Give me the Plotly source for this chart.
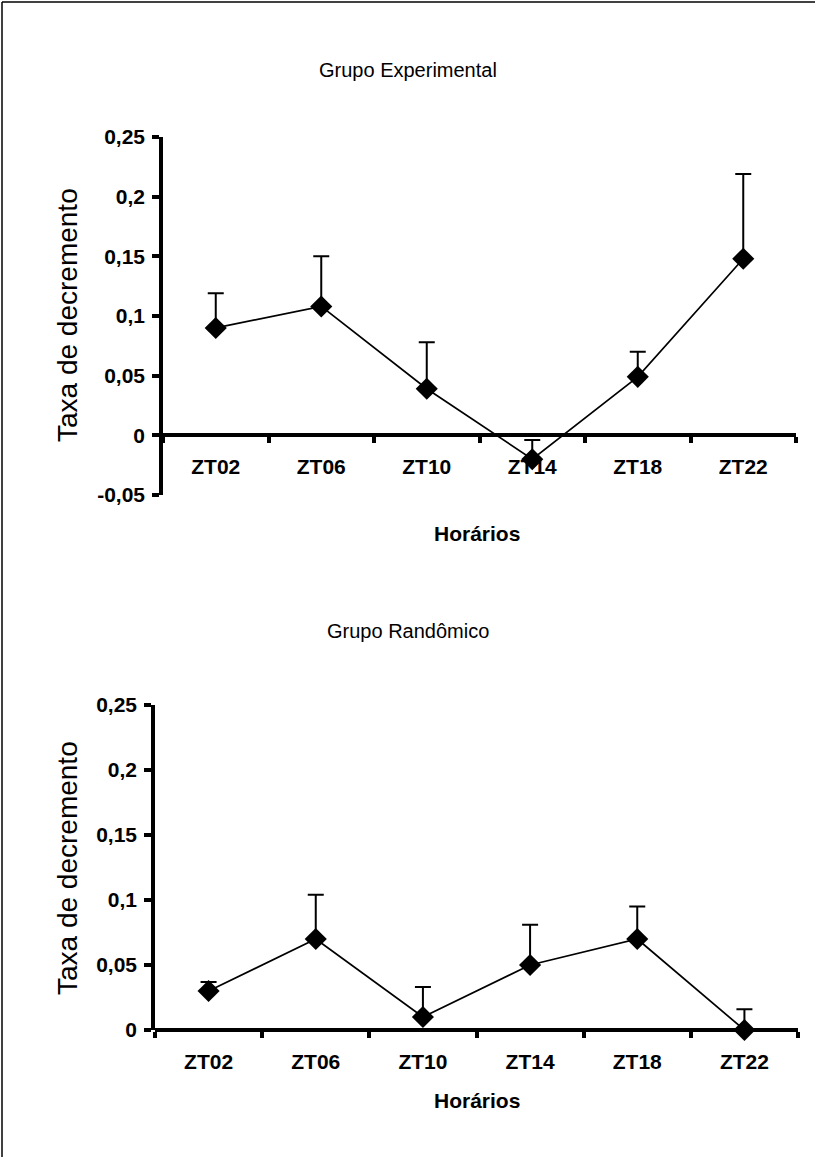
import plotly.graph_objects as go

W, H = 815, 1157

categories = ["ZT02", "ZT06", "ZT10", "ZT14", "ZT18", "ZT22"]

exp_values = [0.09, 0.108, 0.039, -0.02, 0.049, 0.148]
exp_err = [0.029, 0.042, 0.039, 0.016, 0.021, 0.071]

rand_values = [0.03, 0.07, 0.01, 0.05, 0.07, 0.0]
rand_err = [0.007, 0.034, 0.023, 0.031, 0.025, 0.016]

exp_ticks = [-0.05, 0, 0.05, 0.1, 0.15, 0.2, 0.25]
exp_ticktext = ["-0,05", "0", "0,05", "0,1", "0,15", "0,2", "0,25"]
rand_ticks = [0, 0.05, 0.1, 0.15, 0.2, 0.25]
rand_ticktext = ["0", "0,05", "0,1", "0,15", "0,2", "0,25"]

titles = ["Grupo Experimental", "Grupo Randômico"]
xtitle = "Horários"
ytitle = "Taxa de decremento"

BOLD = "Liberation Sans"
REG = "Liberation Sans"

# pixel geometry (top-left origin)
g1 = dict(x0=163, x1=796, ytop=137, ybot=495, yr=[-0.05, 0.25])
g2 = dict(x0=155, x1=798, ytop=705, ybot=1030, yr=[0.0, 0.25])


def px(x):
    return x / W


def py(y):
    return 1 - y / H


fig = go.Figure()

for i, (vals, errs) in enumerate([(exp_values, exp_err), (rand_values, rand_err)]):
    suffix = "" if i == 0 else "2"
    fig.add_trace(go.Scatter(
        x=categories, y=vals,
        xaxis="x" + suffix, yaxis="y" + suffix,
        mode="lines+markers",
        line=dict(color="black", width=1.7),
        marker=dict(symbol="diamond", size=17, color="black"),
        error_y=dict(type="data", array=errs, arrayminus=[0] * len(errs),
                     symmetric=False, color="black", thickness=2, width=8),
        cliponaxis=False,
        showlegend=False,
    ))

layout = dict(
    width=W, height=H,
    margin=dict(l=0, r=0, t=0, b=0, pad=0, autoexpand=False),
    paper_bgcolor="white", plot_bgcolor="rgba(0,0,0,0)",
    showlegend=False,
)

annotations = []
shapes = []

for i, (g, tv, tt) in enumerate([(g1, exp_ticks, exp_ticktext), (g2, rand_ticks, rand_ticktext)]):
    suffix = "" if i == 0 else "2"
    ydom = [py(g["ybot"]), py(g["ytop"])]
    yr = g["yr"]
    pos = ydom[0] + (0 - yr[0]) / (yr[1] - yr[0]) * (ydom[1] - ydom[0])
    layout["xaxis" + suffix] = dict(
        type="category", categoryarray=categories, categoryorder="array",
        range=[-0.5, 5.5], domain=[px(g["x0"]), px(g["x1"])],
        anchor="free", position=pos, automargin=False,
        showline=True, linecolor="black", linewidth=3.5,
        ticks="outside", tickson="boundaries", ticklen=6, tickwidth=3.5, tickcolor="black",
        tickfont=dict(family=BOLD, size=21, color="black", weight="bold"),
        ticklabelstandoff=12,
        showgrid=False, zeroline=False, fixedrange=True,
        layer="below traces",
    )
    layout["yaxis" + suffix] = dict(
        range=yr, domain=ydom, anchor="x" + suffix, automargin=False,
        showline=True, linecolor="black", linewidth=3.5,
        ticks="outside", ticklen=7, tickwidth=3.5, tickcolor="black",
        tickvals=tv, ticktext=tt,
        tickfont=dict(family=BOLD, size=21, color="black", weight="bold"),
        ticklabelstandoff=3,
        showgrid=False, zeroline=False, fixedrange=True,
        layer="below traces",
    )

# titles and axis labels
title_y = [70, 631]
xlab_y = [533, 1100]
ylab_y = [315, 868]
for i in range(2):
    annotations.append(dict(text=titles[i], x=px(408), y=py(title_y[i]), xref="paper", yref="paper",
                            showarrow=False, xanchor="center", yanchor="middle",
                            font=dict(family=REG, size=20, color="black")))
    annotations.append(dict(text="<b>" + xtitle + "</b>", x=px(477), y=py(xlab_y[i]), xref="paper", yref="paper",
                            showarrow=False, xanchor="center", yanchor="middle",
                            font=dict(family=BOLD, size=21, color="black")))
    annotations.append(dict(text=ytitle, x=px(67), y=py(ylab_y[i]), xref="paper", yref="paper",
                            showarrow=False, xanchor="center", yanchor="middle", textangle=-90,
                            font=dict(family=REG, size=28, color="black")))

# outer frame (left and top edges)
shapes.append(dict(type="line", xref="paper", yref="paper", x0=px(2), x1=px(2), y0=0, y1=py(2),
                   line=dict(color="black", width=1.5)))
shapes.append(dict(type="line", xref="paper", yref="paper", x0=px(2), x1=1, y0=py(2), y1=py(2),
                   line=dict(color="black", width=1.5)))

layout["annotations"] = annotations
layout["shapes"] = shapes
fig.update_layout(**layout)

fig.write_html(
    "out.html",
    config={"displayModeBar": False},
    post_script="document.body.style.margin='0';document.body.style.padding='0';",
)
